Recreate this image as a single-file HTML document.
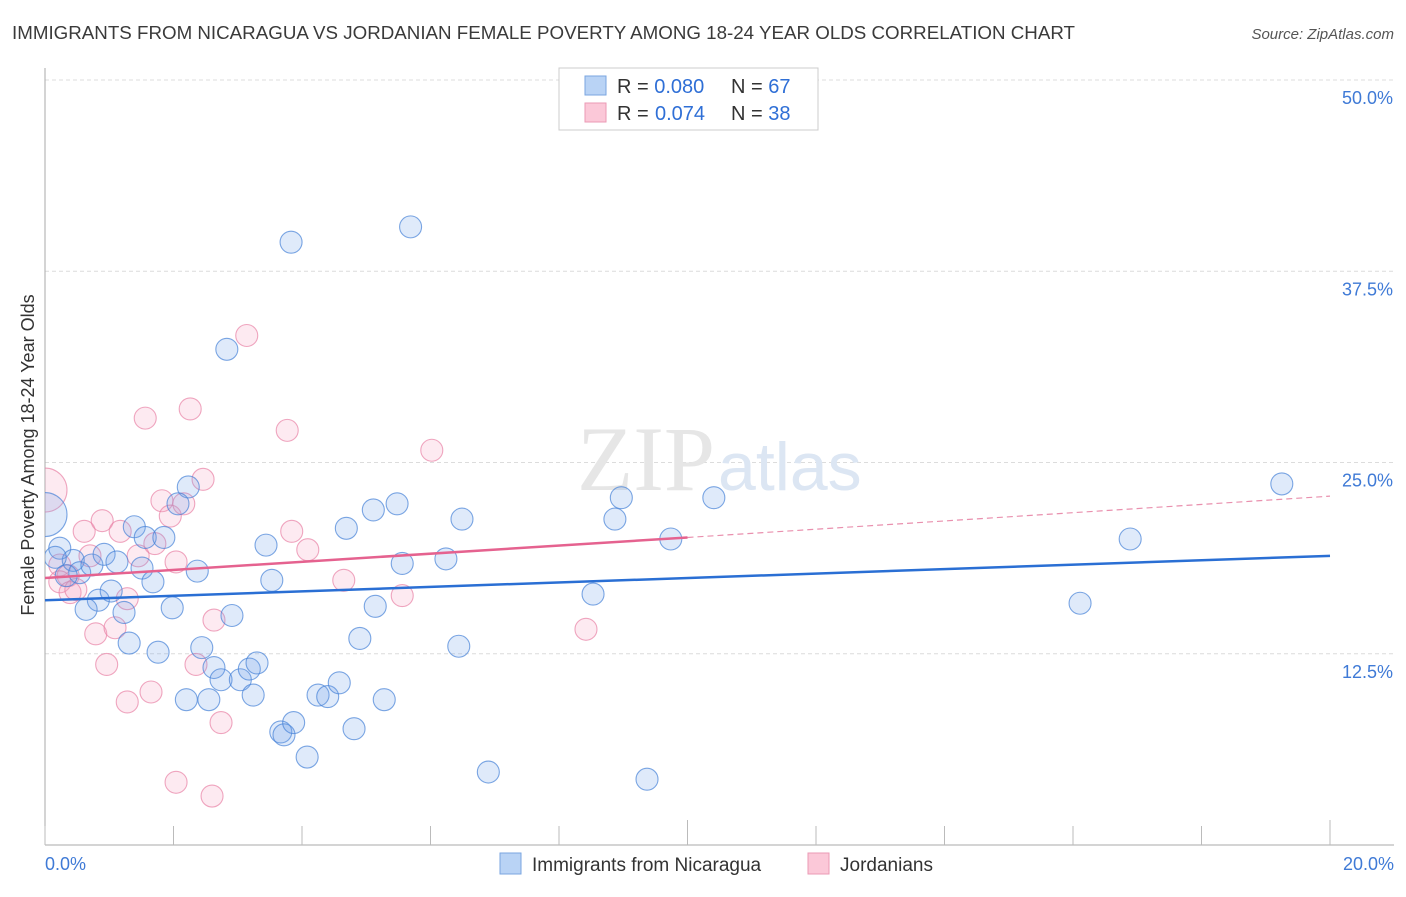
<!DOCTYPE html>
<html><head><meta charset="utf-8"><style>
body{margin:0;background:#fff;font-family:"Liberation Sans",sans-serif}
</style></head><body>
<svg width="1406" height="892" xmlns="http://www.w3.org/2000/svg">
<defs><clipPath id="plotclip"><rect x="45" y="60" width="1360" height="790"/></clipPath></defs>
<text x="12" y="39" font-size="18" fill="#3a3a3a" textLength="1063" lengthAdjust="spacingAndGlyphs">IMMIGRANTS FROM NICARAGUA VS JORDANIAN FEMALE POVERTY AMONG 18-24 YEAR OLDS CORRELATION CHART</text>
<text x="1394" y="39" font-size="15" font-style="italic" fill="#555" text-anchor="end">Source: ZipAtlas.com</text>
<g id="grid"></g>
<text x="715" y="490" font-size="92" font-family="Liberation Serif" fill="#e6e6e6" text-anchor="end">ZIP</text>
<text x="718" y="490" font-size="68" fill="#dce6f3">atlas</text>
<text transform="translate(34,455) rotate(-90)" font-size="18" fill="#333" text-anchor="middle">Female Poverty Among 18-24 Year Olds</text>
<g id="pts" clip-path="url(#plotclip)"></g>
<g id="lines"></g>
<rect x="559" y="68" width="259" height="62" fill="#fff" stroke="#ccc"/>
<rect x="585" y="76" width="21" height="19" fill="#b9d3f5" stroke="#7aa6e0"/>
<rect x="585" y="103" width="21" height="19" fill="#fbc8d8" stroke="#eb9ab5"/>
<text x="617" y="93" font-size="20" fill="#333">R = <tspan fill="#2f6fd6">0.080</tspan><tspan x="731">N = </tspan><tspan fill="#2f6fd6">67</tspan></text>
<text x="617" y="120" font-size="20" fill="#333">R = <tspan fill="#2f6fd6" x="655">0.074</tspan><tspan x="731">N = </tspan><tspan fill="#2f6fd6">38</tspan></text>
<rect x="500" y="853" width="21" height="21" fill="#b9d3f5" stroke="#7aa6e0"/>
<text x="532" y="871" font-size="19" fill="#333">Immigrants from Nicaragua</text>
<rect x="808" y="853" width="21" height="21" fill="#fbc8d8" stroke="#eb9ab5"/>
<text x="840" y="871" font-size="19" fill="#333">Jordanians</text>
</svg>
<script>
const xTicks=[0,2,4,6,8,10,12,14,16,18,20];
const yTicks=[12.5,25,37.5,50];
const yTickLabels=["12.5%","25.0%","37.5%","50.0%"];
const xEndLabels=["0.0%","20.0%"];
const nicX=[3.83,5.69,2.83,0.23,0.44,0.16,0.54,0.73,0.92,1.12,1.39,1.56,1.85,1.51,1.68,0.83,0.64,1.03,1.23,1.98,1.31,1.76,2.37,2.23,2.07,2.91,2.44,2.63,2.74,3.04,3.18,3.3,3.24,2.2,2.55,3.44,3.53,4.69,5.11,5.48,5.56,6.24,6.49,5.14,4.9,6.44,4.25,4.4,4.58,5.28,4.81,3.67,3.72,3.87,4.08,6.9,9.37,8.53,8.87,8.97,9.74,10.41,16.89,16.11,19.25,0,0.33];
const nicY=[39.4,40.4,32.4,19.4,18.6,18.8,17.8,18.3,19.0,18.5,20.8,20.1,20.1,18.1,17.2,16.0,15.4,16.6,15.2,15.5,13.2,12.6,17.9,23.4,22.3,15.0,12.9,11.6,10.8,10.8,11.5,11.9,9.8,9.5,9.5,19.6,17.3,20.7,21.9,22.3,18.4,18.7,21.3,15.6,13.5,12.99,9.8,9.7,10.6,9.5,7.6,7.39,7.2,8.0,5.75,4.77,4.3,16.4,21.3,22.7,20.0,22.7,20.0,15.8,23.6,21.6,17.6];
const nicR=[11,11,11,11,11,11,11,11,11,11,11,11,11,11,11,11,11,11,11,11,11,11,11,11,11,11,11,11,11,11,11,11,11,11,11,11,11,11,11,11,11,11,11,11,11,11,11,11,11,11,11,11,11,11,11,11,11,11,11,11,11,11,11,11,11,22,11];
const jorX=[0,0.23,0.36,0.23,0.39,0.48,0.61,0.7,0.79,0.89,0.96,1.09,1.17,1.28,1.28,1.45,1.56,1.65,1.71,1.82,1.95,2.04,2.16,2.26,2.35,2.46,2.63,2.74,2.04,2.6,3.14,3.77,3.84,4.09,4.65,5.56,6.02,8.42];
const jorY=[23.2,18.3,17.6,17.2,16.5,16.7,20.5,18.9,13.8,21.2,11.8,14.2,20.5,16.1,9.35,18.9,27.9,10.0,19.7,22.5,21.5,18.5,22.3,28.5,11.8,23.9,14.7,8.0,4.1,3.2,33.3,27.1,20.5,19.3,17.3,16.3,25.8,14.1];
const jorR=[22,11,11,11,11,11,11,11,11,11,11,11,11,11,11,11,11,11,11,11,11,11,11,11,11,11,11,11,11,11,11,11,11,11,11,11,11,11];
const nicTrend=[16.0,18.9];
const jorTrend=[17.45,20.1,22.8];
const NS="http://www.w3.org/2000/svg";
const X=v=>45+v*64.25, Y=v=>845-v*15.3;
function mk(tag,attrs,parent){const e=document.createElementNS(NS,tag);for(const k in attrs)e.setAttribute(k,attrs[k]);parent.appendChild(e);return e;}
const grid=document.getElementById('grid');
yTicks.forEach((t,i)=>{
 const l=mk('line',{x1:45,x2:1394,y1:Y(t),y2:Y(t),stroke:'#dcdcdc','stroke-dasharray':'4,3'},grid);
 
 
 const tx=mk('text',{x:1393,y:Y(t)+24,'font-size':18,fill:'#3f7ad6','text-anchor':'end'},grid);
 tx.textContent=yTickLabels[i];
 
 
});
const ax=mk('line',{x1:45,x2:1394,y1:845,y2:845,stroke:'#aaa'},grid);


const ay=mk('line',{x1:45,x2:45,y1:68,y2:845,stroke:'#aaa'},grid);


xTicks.forEach(t=>{
 const long=(t===10||t===20);
 const l=mk('line',{x1:X(t),x2:X(t),y1:long?820:826,y2:845,stroke:'#bbb'},grid);
 
 
});
[[0,'start'],[20,'end']].forEach((p,i)=>{
 const tx=mk('text',{x:i?1394:45,y:870,'font-size':18,fill:'#3f7ad6','text-anchor':p[1]},grid);
 tx.textContent=xEndLabels[i];
 
 
});
const pts=document.getElementById('pts');
jorX.forEach((x,i)=>{
 const c=mk('circle',{cx:X(x),cy:Y(jorY[i]),r:jorR[i],fill:'rgba(245,160,190,0.22)',stroke:'rgba(232,130,165,0.7)','stroke-width':1.1},pts);
 
 
});
nicX.forEach((x,i)=>{
 const c=mk('circle',{cx:X(x),cy:Y(nicY[i]),r:nicR[i],fill:'rgba(110,160,230,0.22)',stroke:'rgba(70,130,215,0.7)','stroke-width':1.1},pts);
 
 
});
const lines=document.getElementById('lines');
const b=mk('line',{x1:X(0),y1:Y(nicTrend[0]),x2:X(20),y2:Y(nicTrend[1]),stroke:'#2a6fd4','stroke-width':2.5},lines);


const p=mk('line',{x1:X(0),y1:Y(jorTrend[0]),x2:X(10),y2:Y(jorTrend[1]),stroke:'#e5628f','stroke-width':2.5},lines);


const pd=mk('line',{x1:X(10),y1:Y(jorTrend[1]),x2:X(20),y2:Y(jorTrend[2]),stroke:'#e990ae','stroke-width':1.2,'stroke-dasharray':'6,4'},lines);


</script>
</body></html>
